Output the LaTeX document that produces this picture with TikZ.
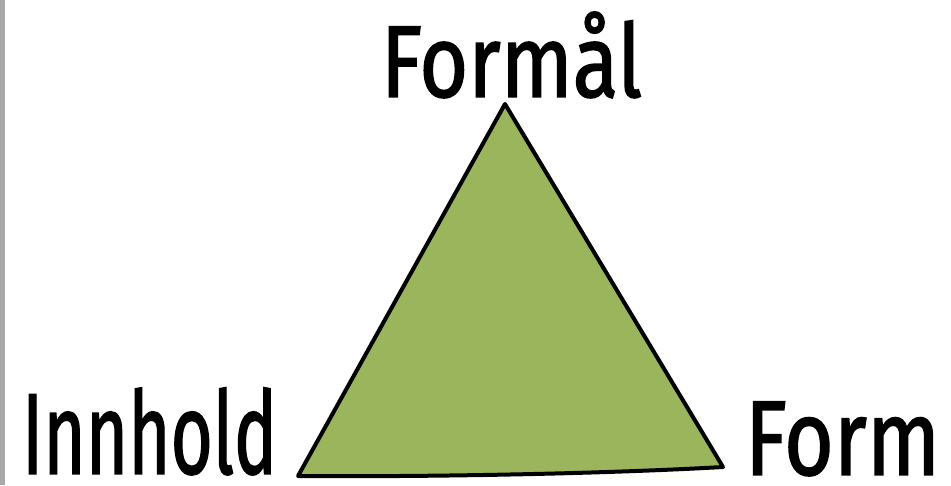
\documentclass[tikz,border=0pt]{standalone}
\usepackage{fontspec}
\newfontfamily\hand[FakeBold=1.6]{Fira Sans}
\usepackage{graphicx}
\definecolor{leaf}{HTML}{9AB55C}
\definecolor{edge}{HTML}{A8A8A8}
\tikzset{
  label/.style={inner sep=0pt, outer sep=0pt, anchor=south west, font=\hand},
  tri/.style={fill=leaf, draw=black, line width=4pt, line join=round}
}
\begin{document}
\begin{tikzpicture}[x=1pt,y=-1pt]
\useasboundingbox (0,0) rectangle (951,485);
\fill[white] (0,0) rectangle (951,485);
\fill[edge] (0,0) rectangle (5,485);
\coordinate (apex) at (505,104);
\coordinate (bl) at (298,476);
\coordinate (br) at (723,467);
\draw[tri] (apex) -- (br) .. controls (600,474) and (420,477) .. (bl) -- cycle;
\node[label] (formal) at (381,98) {\resizebox{261pt}{85pt}{Formål}};
\node[label] (innhold) at (22,475) {\resizebox{255pt}{86pt}{Innhold}};
\node[label] (form) at (745,476) {\resizebox{195pt}{73pt}{Form}};
\end{tikzpicture}
\end{document}
